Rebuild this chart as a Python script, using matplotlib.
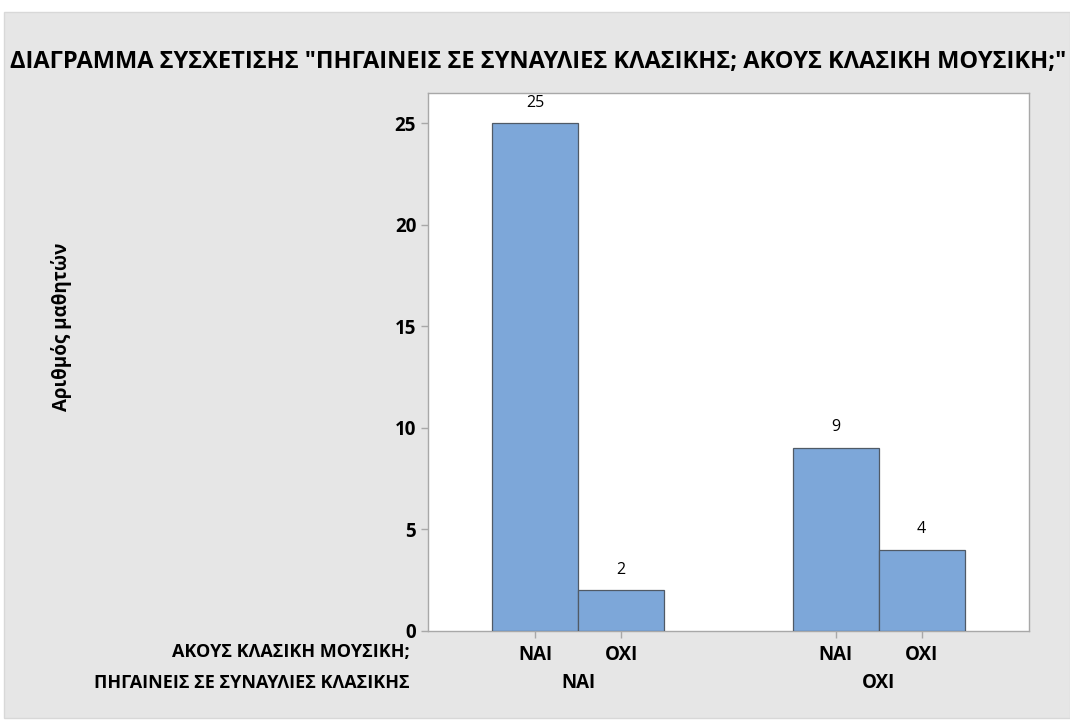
import matplotlib
matplotlib.use("Agg")
import matplotlib.pyplot as plt
from matplotlib.patches import Rectangle

plt.rcParams['font.family'] = ['Open Sans', 'DejaVu Sans']

concert = ["ΝΑΙ", "ΟΧΙ"]
listen = ["ΝΑΙ", "ΟΧΙ", "ΝΑΙ", "ΟΧΙ"]
counts = [25, 2, 9, 4]
positions = [0, 1, 3.5, 4.5]
yticks = [0, 5, 10, 15, 20, 25]

title = 'ΔΙΑΓΡΑΜΜΑ ΣΥΣΧΕΤΙΣΗΣ "ΠΗΓΑΙΝΕΙΣ ΣΕ ΣΥΝΑΥΛΙΕΣ ΚΛΑΣΙΚΗΣ; ΑΚΟΥΣ ΚΛΑΣΙΚΗ ΜΟΥΣΙΚΗ;"'
ylabel = "Αριθμός μαθητών"
row1 = "ΑΚΟΥΣ ΚΛΑΣΙΚΗ ΜΟΥΣΙΚΗ;"
row2 = "ΠΗΓΑΙΝΕΙΣ ΣΕ ΣΥΝΑΥΛΙΕΣ ΚΛΑΣΙΚΗΣ"

W, H = 1070, 722
fs = 13.5
fig = plt.figure(figsize=(W/100, H/100), dpi=100, facecolor="white")
# grey panel
fig.patches.append(Rectangle((4/W, 4/H), 1 - 4/W, 1 - 16/H, transform=fig.transFigure,
                             facecolor="#E6E6E6", edgecolor="#D8D8D8", lw=1, zorder=-5))

ax = fig.add_axes([428/W, (H-631)/H, 601/W, (631-93)/H])
ax.set_facecolor("white")
ax.bar(positions, counts, width=1, color="#7DA7D9", edgecolor="#505a66", linewidth=0.9, zorder=3)
for x, v in zip(positions, counts):
    ax.annotate(str(v), (x, v), xytext=(0, 15), textcoords="offset points",
                ha="center", va="center", fontsize=11.5, color="black")

ax.set_xlim(-1.25, 5.75)
ax.set_ylim(0, 26.5)
ax.set_yticks(yticks)
ax.set_yticklabels([str(t) for t in yticks], fontsize=fs, fontweight="bold")
ax.set_xticks(positions)
ax.set_xticklabels(listen, fontsize=fs, fontweight="bold")
ax.tick_params(axis="both", colors="#A8A8A8", length=5, width=1, labelcolor="black")
ax.tick_params(axis="x", pad=5)
for s in ax.spines.values():
    s.set_color("#A8A8A8")
    s.set_linewidth(1)

# group labels
for i, lab in enumerate(concert):
    cx = (positions[2*i] + positions[2*i+1]) / 2
    ax.text(cx, -(683 - 631) / 538, lab, transform=ax.get_xaxis_transform(), ha="center", va="center",
            fontsize=fs, fontweight="bold")
fig.text(410/W, 1 - 652/H, row1, ha="right", va="center", fontsize=13, fontweight="bold")
fig.text(410/W, 1 - 683/H, row2, ha="right", va="center", fontsize=13, fontweight="bold")

fig.text(10/W, 1 - 62/H, title, ha="left", va="center", fontsize=17, fontweight="bold")
fig.text(62/W, 1 - 327/H, ylabel, ha="center", va="center", rotation=90,
         fontsize=13.5, fontweight="bold")

fig.savefig("out.png", dpi=100, facecolor="white")
